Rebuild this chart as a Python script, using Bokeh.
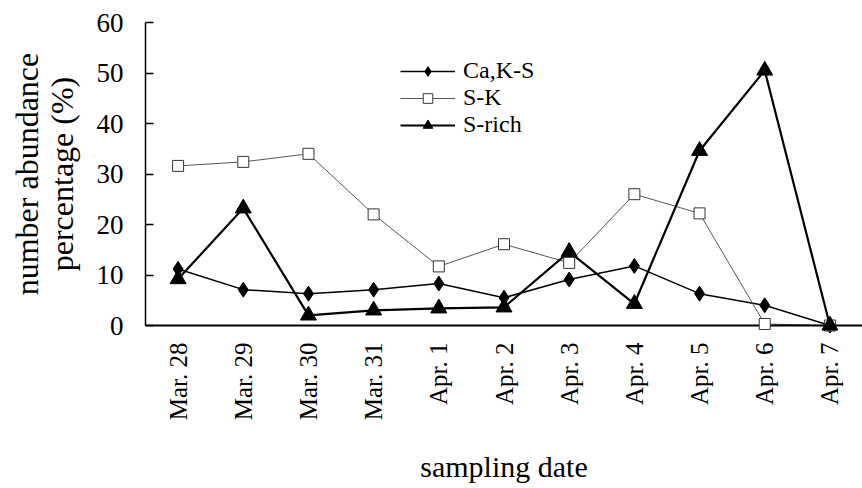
import math
from bokeh.plotting import figure
from bokeh.models import FactorRange, Range1d, Legend, LegendItem, ColumnDataSource
from bokeh.embed import file_html
from bokeh.resources import INLINE

dates = ["Mar. 28", "Mar. 29", "Mar. 30", "Mar. 31", "Apr. 1", "Apr. 2",
         "Apr. 3", "Apr. 4", "Apr. 5", "Apr. 6", "Apr. 7"]
ca_ks = [11.2, 7.1, 6.3, 7.1, 8.3, 5.5, 9.1, 11.8, 6.3, 4.0, 0.0]
s_k = [31.6, 32.4, 34.0, 22.0, 11.7, 16.1, 12.4, 26.0, 22.2, 0.3, 0.0]
s_rich = [9.2, 23.2, 2.0, 3.0, 3.4, 3.6, 14.6, 4.3, 34.6, 50.5, 0.0]
y_ticks = [0, 10, 20, 30, 40, 50, 60]
series_names = ["Ca,K-S", "S-K", "S-rich"]

FONT = "Liberation Serif"

src = ColumnDataSource(dict(x=dates, ca=ca_ks, sk=s_k, sr=s_rich))

p = figure(width=862, height=488, output_backend="svg", toolbar_location=None,
           x_range=FactorRange(*dates, range_padding=0), y_range=Range1d(0, 60),
           min_border_left=145, min_border_right=0, min_border_top=22,
           min_border_bottom=163)
p.outline_line_color = None
p.xgrid.visible = False
p.ygrid.visible = False
p.background_fill_color = "white"
p.border_fill_color = "white"

# y axis
p.yaxis.ticker = y_ticks
p.yaxis.minor_tick_line_color = None
p.yaxis.major_tick_in = 8
p.yaxis.major_tick_out = 0
p.yaxis.major_tick_line_width = 1.5
p.yaxis.axis_line_width = 1.5
p.yaxis.axis_line_color = "black"
p.yaxis.major_tick_line_color = "black"
p.yaxis.major_label_text_font = FONT
p.yaxis.major_label_text_font_size = "27px"
p.yaxis.major_label_text_color = "black"
p.yaxis.major_label_standoff = 22
p.yaxis.axis_label = "number abundance\npercentage (%)"
p.yaxis.axis_label_text_font = FONT
p.yaxis.axis_label_text_font_size = "32px"
p.yaxis.axis_label_text_font_style = "normal"
p.yaxis.axis_label_text_color = "black"
p.yaxis.axis_label_standoff = 14
p.yaxis.axis_label_text_line_height = 0.95

# x axis
p.xaxis.major_tick_in = 0
p.xaxis.major_tick_out = 0
p.xaxis.major_tick_line_color = None
p.xaxis.axis_line_width = 2
p.xaxis.axis_line_color = "black"
p.xaxis.major_label_orientation = math.pi / 2
p.xaxis.major_label_text_font = FONT
p.xaxis.major_label_text_font_size = "25px"
p.xaxis.major_label_text_color = "black"
p.xaxis.major_label_standoff = 17
p.xaxis.axis_label = "sampling date"
p.xaxis.axis_label_text_font = FONT
p.xaxis.axis_label_text_font_size = "30px"
p.xaxis.axis_label_text_font_style = "normal"
p.xaxis.axis_label_text_color = "black"
p.xaxis.axis_label_standoff = 27

# series
l1 = p.line("x", "ca", source=src, line_color="black", line_width=1.5)
m1 = p.scatter("x", "ca", source=src, marker="diamond", size=15,
               fill_color="black", line_color="black", level="overlay")
l2 = p.line("x", "sk", source=src, line_color="#555555", line_width=1)
m2 = p.scatter("x", "sk", source=src, marker="square", size=11,
               fill_color="white", line_color="#333333", line_width=1,
               level="overlay")
l3 = p.line("x", "sr", source=src, line_color="black", line_width=2.2)
m3 = p.scatter("x", "sr", source=src, marker="triangle", size=16,
               fill_color="black", line_color="black", level="overlay")

# one legend per entry so that row spacing can match the reference
legend_y = [241, 214, 187]
for name, rends, ly in zip(series_names, [[l1, m1], [l2, m2], [l3, m3]], legend_y):
    lg = Legend(items=[LegendItem(label=name, renderers=rends)], location=(255, ly))
    lg.border_line_color = None
    lg.background_fill_alpha = 0
    lg.padding = 0
    lg.margin = 0
    lg.spacing = 0
    lg.glyph_width = 55
    lg.glyph_height = 24
    lg.label_height = 24
    lg.label_standoff = 8
    lg.label_text_font = FONT
    lg.label_text_font_size = "24px"
    lg.label_text_color = "black"
    p.add_layout(lg)

open("out.html", "w").write(file_html(p, INLINE))
